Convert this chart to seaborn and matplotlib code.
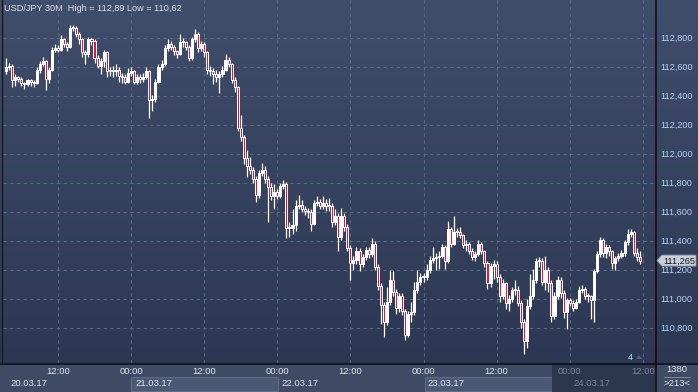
import numpy as np
import matplotlib
matplotlib.use("Agg")
import matplotlib.pyplot as plt
import seaborn as sns
import pandas as pd
from matplotlib.colors import LinearSegmentedColormap
from matplotlib.patches import Polygon, Rectangle

# ---------------- data ----------------
first_open = 112.57
close = [
    112.60, 112.61, 112.51, 112.53, 112.52, 112.49, 112.48, 112.51, 112.50, 112.49,
    112.58, 112.62, 112.64, 112.52, 112.58, 112.72, 112.73, 112.72, 112.79, 112.76,
    112.74, 112.87, 112.87, 112.83, 112.79, 112.70, 112.69, 112.79, 112.78, 112.66,
    112.61, 112.64, 112.70, 112.57, 112.57, 112.57, 112.58, 112.54, 112.53, 112.50,
    112.56, 112.57, 112.50, 112.53, 112.52, 112.53, 112.57, 112.37, 112.38, 112.50,
    112.60, 112.62, 112.73, 112.76, 112.74, 112.71, 112.69, 112.77, 112.77, 112.74,
    112.66, 112.79, 112.83, 112.73, 112.76, 112.70, 112.58, 112.57, 112.55, 112.53,
    112.55, 112.58, 112.65, 112.62, 112.51, 112.46, 112.18, 112.12, 111.97, 111.92,
    111.89, 111.83, 111.72, 111.87, 111.89, 111.83, 111.77, 111.71, 111.74, 111.71,
    111.78, 111.79, 111.49, 111.49, 111.51, 111.64, 111.65, 111.62, 111.61, 111.60,
    111.52, 111.66, 111.67, 111.64, 111.66, 111.64, 111.64, 111.53, 111.57, 111.43,
    111.57, 111.50, 111.35, 111.25, 111.27, 111.33, 111.24, 111.29, 111.34, 111.31,
    111.38, 111.22, 111.09, 110.96, 110.84, 110.98, 111.13, 111.05, 110.94, 111.02,
    110.92, 110.75, 110.90, 110.91, 111.06, 111.12, 111.15, 111.15, 111.20, 111.27,
    111.28, 111.29, 111.30, 111.36, 111.26, 111.48, 111.38, 111.46, 111.46, 111.44,
    111.37, 111.38, 111.33, 111.29, 111.31, 111.38, 111.33, 111.25, 111.11, 111.23,
    111.24, 111.15, 111.02, 111.11, 110.97, 111.00, 111.06, 111.06, 110.97, 110.84,
    110.71, 110.95, 111.02, 111.13, 111.26, 111.26, 111.12, 111.20, 111.11, 110.88,
    111.02, 111.13, 111.04, 110.91, 110.99, 110.97, 110.94, 110.98, 111.06, 111.07,
    111.02, 111.02, 110.99, 111.19, 111.31, 111.41, 111.32, 111.36, 111.33, 111.25,
    111.28, 111.30, 111.32, 111.39, 111.45, 111.46, 111.32, 111.29, 111.265,
]
high = [
    112.66, 112.63, 112.62, 112.55, 112.54, 112.53, 112.50, 112.52, 112.52, 112.51,
    112.60, 112.64, 112.67, 112.65, 112.60, 112.74, 112.76, 112.75, 112.82, 112.80,
    112.77, 112.89, 112.89, 112.88, 112.84, 112.80, 112.72, 112.81, 112.80, 112.79,
    112.68, 112.66, 112.72, 112.71, 112.60, 112.61, 112.62, 112.60, 112.56, 112.55,
    112.59, 112.60, 112.58, 112.55, 112.55, 112.56, 112.60, 112.58, 112.41, 112.52,
    112.62, 112.65, 112.75, 112.79, 112.78, 112.75, 112.72, 112.83, 112.80, 112.78,
    112.75, 112.81, 112.86, 112.84, 112.78, 112.77, 112.71, 112.61, 112.59, 112.58,
    112.57, 112.61, 112.69, 112.67, 112.63, 112.53, 112.47, 112.27, 112.13, 112.03,
    111.98, 111.91, 111.85, 111.89, 111.94, 111.92, 111.85, 111.80, 111.79, 111.76,
    111.80, 111.82, 111.81, 111.53, 111.62, 111.68, 111.72, 111.68, 111.64, 111.63,
    111.62, 111.68, 111.71, 111.69, 111.71, 111.69, 111.70, 111.66, 111.62, 111.59,
    111.63, 111.59, 111.52, 111.37, 111.30, 111.36, 111.35, 111.31, 111.36, 111.36,
    111.42, 111.40, 111.24, 111.11, 110.98, 111.08, 111.20, 111.19, 111.07, 111.04,
    111.04, 110.93, 110.92, 110.98, 111.12, 111.20, 111.18, 111.18, 111.24, 111.30,
    111.36, 111.32, 111.33, 111.38, 111.37, 111.54, 111.50, 111.57, 111.49, 111.50,
    111.45, 111.41, 111.39, 111.35, 111.33, 111.41, 111.39, 111.34, 111.26, 111.25,
    111.27, 111.26, 111.17, 111.14, 111.12, 111.03, 111.08, 111.13, 111.09, 110.99,
    110.86, 111.00, 111.17, 111.21, 111.28, 111.29, 111.28, 111.30, 111.22, 111.13,
    111.05, 111.16, 111.15, 111.06, 111.01, 111.01, 110.99, 111.00, 111.09, 111.10,
    111.08, 111.04, 111.03, 111.21, 111.33, 111.43, 111.42, 111.38, 111.37, 111.34,
    111.30, 111.32, 111.34, 111.41, 111.48, 111.48, 111.47, 111.35, 111.33,
]
low = [
    112.55, 112.58, 112.46, 112.47, 112.50, 112.47, 112.45, 112.47, 112.47, 112.46,
    112.48, 112.56, 112.61, 112.44, 112.49, 112.57, 112.70, 112.70, 112.71, 112.74,
    112.71, 112.73, 112.85, 112.81, 112.76, 112.67, 112.62, 112.67, 112.75, 112.63,
    112.59, 112.55, 112.60, 112.53, 112.54, 112.53, 112.54, 112.50, 112.49, 112.48,
    112.49, 112.54, 112.48, 112.48, 112.49, 112.50, 112.52, 112.25, 112.30, 112.36,
    112.49, 112.58, 112.61, 112.71, 112.72, 112.68, 112.66, 112.68, 112.74, 112.72,
    112.64, 112.65, 112.77, 112.70, 112.71, 112.67, 112.55, 112.54, 112.48, 112.50,
    112.42, 112.53, 112.57, 112.60, 112.49, 112.43, 112.16, 112.09, 111.93, 111.84,
    111.86, 111.80, 111.67, 111.70, 111.85, 111.80, 111.53, 111.68, 111.62, 111.69,
    111.70, 111.76, 111.42, 111.43, 111.45, 111.47, 111.62, 111.60, 111.58, 111.56,
    111.47, 111.51, 111.64, 111.62, 111.62, 111.61, 111.61, 111.50, 111.51, 111.33,
    111.41, 111.47, 111.33, 111.13, 111.20, 111.24, 111.19, 111.22, 111.27, 111.28,
    111.29, 111.20, 111.06, 110.83, 110.74, 110.82, 110.96, 111.02, 110.90, 110.91,
    110.89, 110.72, 110.74, 110.84, 110.89, 111.04, 111.10, 111.12, 111.13, 111.18,
    111.25, 111.20, 111.21, 111.28, 111.21, 111.25, 111.36, 111.37, 111.43, 111.42,
    111.35, 111.33, 111.31, 111.27, 111.26, 111.30, 111.31, 111.22, 111.07, 111.08,
    111.14, 111.12, 110.98, 111.00, 110.93, 110.92, 110.98, 111.03, 110.95, 110.80,
    110.62, 110.66, 110.93, 111.00, 111.11, 111.22, 111.10, 111.06, 111.05, 110.84,
    110.86, 111.00, 111.01, 110.87, 110.79, 110.95, 110.92, 110.93, 110.97, 111.04,
    111.00, 110.98, 110.86, 110.84, 111.18, 111.29, 111.29, 111.28, 111.30, 111.21,
    111.20, 111.26, 111.28, 111.30, 111.37, 111.43, 111.30, 111.26, 111.24,
]
price_ticks = [110.8, 111.0, 111.2, 111.4, 111.6, 111.8, 112.0, 112.2, 112.4, 112.6, 112.8]
time_labels = ["12:00", "00:00", "12:00", "00:00", "12:00", "00:00", "12:00", "00:00", "12:00"]
time_label_bars = [17, 41, 65, 89, 113, 137, 161, 185, 209]
date_labels = ["20.03.17", "21.03.17", "22.03.17", "23.03.17", "24.03.17"]
date_label_bars = [0, 41, 89, 137, 185]
title = "USD/JPY 30M  High = 112,89 Low = 110,62"
last_price = 111.265

# ---------------- frame ----------------
df = pd.DataFrame({"close": close, "high": high, "low": low})
df["open"] = [first_open] + close[:-1]
df["bar"] = np.arange(len(df))

sns.set_theme(style="dark")
plt.rcParams["font.family"] = ["Liberation Sans", "DejaVu Sans"]

W, H = 698, 392
fig = plt.figure(figsize=(W / 100, H / 100), dpi=100)
fig.patch.set_facecolor("#34405b")

# background canvas in pixel coordinates
bg = fig.add_axes([0, 0, 1, 1])
bg.set_xlim(0, W)
bg.set_ylim(H, 0)
bg.set_axis_off()
grad = np.linspace(0, 1, 256).reshape(-1, 1)
cmap = LinearSegmentedColormap.from_list("bg", ["#404d6b", "#2c3853"])
bg.imshow(grad, aspect="auto", cmap=cmap, extent=(0, W, 363, 0), origin="upper", zorder=0)

# bottom time panel
bg.add_patch(Rectangle((0, 363), W, 29, fc="#3f4b65", ec="none", zorder=1))
bg.add_patch(Rectangle((131, 377), 147, 14, fc="#4c5974", ec="#5f6c88", lw=0.8, zorder=2))
bg.add_patch(Rectangle((425, 377), 127, 14, fc="#4c5974", ec="#5f6c88", lw=0.8, zorder=2))
bg.add_patch(Rectangle((552, 363), 103, 29, fc="#2c374d", ec="none", zorder=2))
bg.add_patch(Rectangle((656, 363), 42, 29, fc="#3f4b65", ec="none", zorder=2))

X0, DX = 6.2, 3.046
for lab, b in zip(time_labels, time_label_bars):
    xp = X0 + DX * b
    col = "#e2e8f2" if xp < 552 else "#7b8599"
    t = bg.text(xp, 372, lab, ha="center", va="center", fontsize=6.8, color=col, zorder=5)
    t.set_clip_path(Rectangle((0, 363), 655, 29, transform=bg.transData))
for lab, b in zip(date_labels, date_label_bars):
    xp = max(X0 + DX * b, 5) + 4
    col = "#e2e8f2" if xp < 552 else "#7b8599"
    bg.text(xp, 384, lab, ha="left", va="center", fontsize=6.8, color=col, zorder=5)

# separators
bg.plot([655.5, 655.5], [0, H], color="#0d0f14", lw=1.2, zorder=6)
bg.plot([0, W], [363.5, 363.5], color="#0d0f14", lw=1.2, zorder=6)
bg.plot([1.5, 1.5], [0, 363], color="#15191f", lw=1.0, zorder=6)

# corner box
bg.text(677, 370, "1380", ha="center", va="center", fontsize=6.8, color="#e2e8f2", zorder=6)
bg.plot([664, 690], [376.5, 376.5], color="#8a94a8", lw=0.6, zorder=6)
bg.text(677, 384, ">213<", ha="center", va="center", fontsize=6.8, color="#e2e8f2", zorder=6)

# title
bg.text(4, 8, title, ha="left", va="center", fontsize=6.6, color="#dfe6f0", zorder=6)

# ---------------- main chart ----------------
ax = fig.add_axes([3 / W, 29 / H, 652 / W, 363 / H])
ax.set_facecolor("none")
ax.set_xlim(-1.05, 213.0)
ax.set_ylim(110.559, 113.062)
for s in ax.spines.values():
    s.set_visible(False)
ax.set_xticks([])
ax.set_yticks([])
ax.grid(False)

grid_kw = dict(color="#5a6784", lw=0.8, linestyle=(0, (3, 3)), zorder=1)
for p in price_ticks:
    ax.axhline(p, **grid_kw)
for b in time_label_bars:
    ax.axvline(b, **grid_kw)

up = df["close"] >= df["open"]
ax.vlines(df["bar"], df["low"], df["high"], color="white", lw=0.9, zorder=3)
body_bottom = np.minimum(df["open"], df["close"])
body_h = np.maximum(np.abs(df["close"] - df["open"]), 0.006)
fills = np.where(up, "#ffffff", "#e3163c")
ax.bar(df["bar"], body_h, bottom=body_bottom, width=0.68, color=fills,
       edgecolor="white", linewidth=0.7, zorder=4)

# right price axis labels
ytr = ax.get_yaxis_transform()
for p in price_ticks:
    lab = f"{p:,.3f}".replace(".", ",")
    ax.text(1 + 5 / 652, p, lab, transform=ytr, ha="left", va="center",
            fontsize=6.6, color="#b9d3f3", clip_on=False, zorder=5)

# last price tag (pixel coords)
yl = 38 + (112.8 - last_price) * 145
tag = Polygon([(657, yl), (662, yl - 5.5), (696, yl - 5.5), (696, yl + 5.5), (662, yl + 5.5)],
              closed=True, fc="#c9ced8", ec="#8d95a5", lw=0.6, zorder=8)
bg.add_patch(tag)
bg.text(663, yl + 0.3, "111,265", ha="left", va="center", fontsize=6.6, color="#15181e", zorder=9)

# "4" marker
bg.text(630, 357, "4", ha="center", va="center", fontsize=6.6, color="#b9d3f3", zorder=6)
bg.add_patch(Polygon([(636, 359), (642, 359), (639, 355)], closed=True, fc="#56607a", ec="none", zorder=6))

fig.savefig("out.png", dpi=100)
